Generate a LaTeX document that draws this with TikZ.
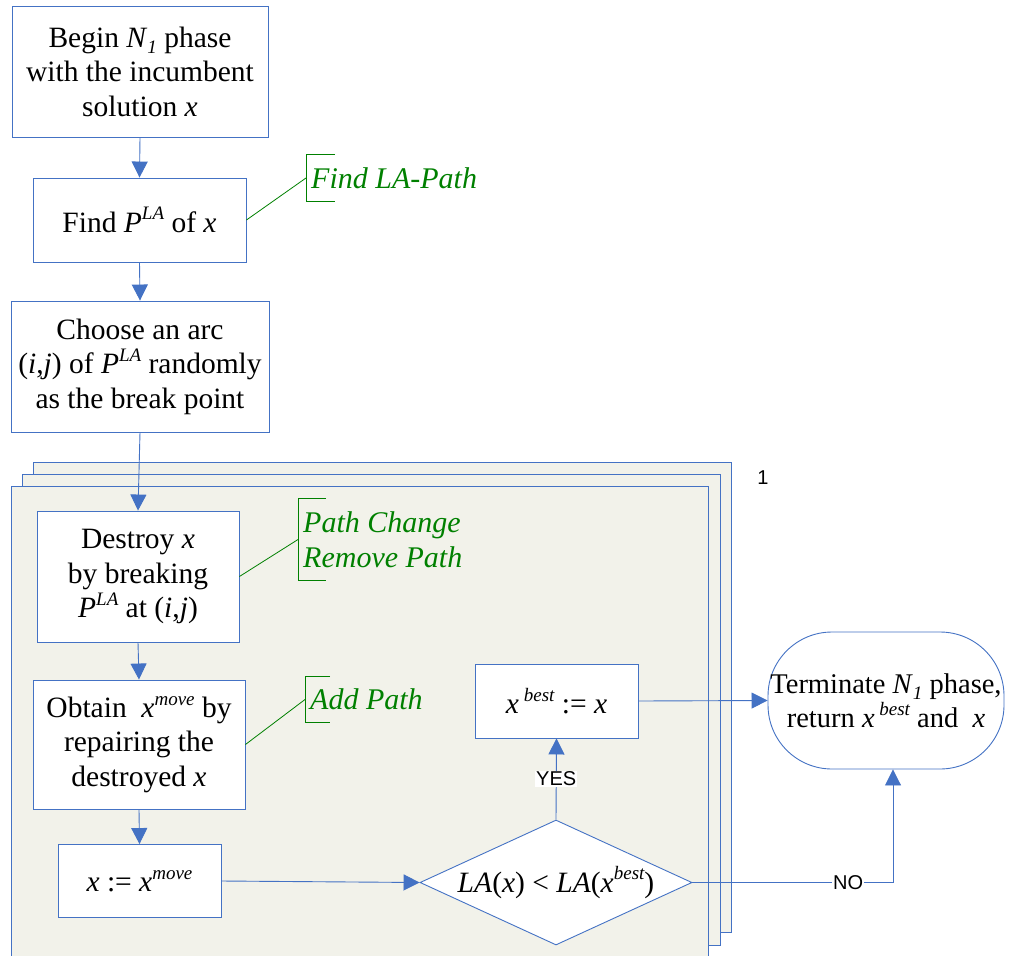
\documentclass[tikz,border=0pt]{standalone}
\usepackage{fontspec}
\setmainfont{Liberation Serif}
\newfontfamily\labelfont{Liberation Sans}
\usetikzlibrary{shapes.geometric,arrows.meta}
\definecolor{flowblue}{RGB}{68,114,196}
\definecolor{panelfill}{RGB}{242,242,234}
\definecolor{notegreen}{RGB}{0,128,0}
% raised / lowered italic indices at a fixed size
\newcommand\myup[1]{\raisebox{0.42em}{\fontsize{19}{19}\selectfont\itshape #1}}
\newcommand\mydown[1]{\raisebox{-0.22em}{\fontsize{19}{19}\selectfont\itshape #1}}
\newcommand\vx{\textit{x}}

\begin{document}
\begin{tikzpicture}[x=1pt,y=-1pt,
  box/.style={draw=flowblue, line width=0.9pt, fill=white, align=center,
    inner sep=0pt, font=\fontsize{29.5}{34.5}\selectfont},
  flow/.style={draw=flowblue, line width=0.9pt, -{Triangle[length=16pt,width=16pt]}},
  panel/.style={draw=flowblue, line width=0.9pt, fill=panelfill},
  note/.style={text=notegreen, font=\fontsize{30}{35}\selectfont\itshape,
    align=left, anchor=west, inner xsep=5pt, inner ysep=0pt},
  notelink/.style={draw=notegreen, line width=0.8pt},
  tag/.style={font=\labelfont\fontsize{20}{20}\selectfont, fill=white, inner sep=1pt}
]
\useasboundingbox (0,0) rectangle (1019,955);

% stacked loop panels
\begin{scope}
  \clip (0,0) rectangle (1019,955);
  \draw[panel] (33,462) rectangle (731,932);
  \draw[panel] (22,474) rectangle (720,945);
  \draw[panel] (11,486) rectangle (708,975);
\end{scope}
\node[font=\labelfont\fontsize{20}{20}\selectfont] (pagenum) at (763,478) {1};

% process steps
\node[box, minimum width=256, minimum height=131] (begin) at (140,71.5)
  {Begin \textit{N}\mydown{1} phase\\with the incumbent\\solution \vx};
\node[box, minimum width=213, minimum height=84] (findp) at (139.5,220)
  {Find \textit{P}\myup{LA} of \vx};
\node[box, minimum width=258, minimum height=131] (choose) at (140,366.5)
  {Choose an arc\\(\textit{i},\textit{j}) of \textit{P}\myup{LA} randomly\\as the break point};
\node[box, minimum width=202, minimum height=131] (destroy) at (138,576.5)
  {Destroy \vx\\by breaking\\\textit{P}\myup{LA} at (\textit{i},\textit{j})};
\node[box, minimum width=212, minimum height=129] (obtain) at (139,744.5)
  {Obtain \ \vx\myup{move} by\\repairing the\\destroyed \vx};
\node[box, minimum width=163, minimum height=73] (assign) at (139.5,881)
  {\vx\ := \vx\myup{move}};
\node[box, shape=diamond, aspect=2.18, minimum width=272, minimum height=125] (test) at (556,882.5)
  {\textit{LA}(\vx) < \textit{LA}(\vx\myup{best})};
\node[box, minimum width=163, minimum height=74] (best) at (556.5,701)
  {\vx\,\myup{best} := \vx};
\node[box, rounded corners=64pt, minimum width=236, minimum height=137,
  font=\fontsize{28.5}{34.5}\selectfont] (term) at (886,700.5)
  {Terminate \textit{N}\mydown{1} phase,\\return \vx\,\myup{best} and \ \vx};

% annotations
\node[note, minimum height=46] (n1) at (306,178) {Find LA-Path};
\draw[notelink] ([xshift=29pt]n1.north west) -- (n1.north west) -- (n1.south west) -- ([xshift=29pt]n1.south west);
\draw[notelink] (findp.east) -- (n1.west);

\node[note, minimum height=81] (n2) at (298,539.5) {Path Change\\Remove Path};
\draw[notelink] ([xshift=28pt]n2.north west) -- (n2.north west) -- (n2.south west) -- ([xshift=28pt]n2.south west);
\draw[notelink] (destroy.east) -- (n2.west);

\node[note, minimum height=45] (n3) at (305,699.5) {Add Path};
\draw[notelink] ([xshift=25pt]n3.north west) -- (n3.north west) -- (n3.south west) -- ([xshift=25pt]n3.south west);
\draw[notelink] (obtain.east) -- (n3.west);

% connectors
\draw[flow] (begin.south) -- (findp.north);
\draw[flow] (findp.south) -- (choose.north);
\draw[flow] (choose.south) -- (destroy.north);
\draw[flow] (destroy.south) -- (obtain.north);
\draw[flow] (obtain.south) -- (assign.north);
\draw[flow] (assign.east) -- (test.west);
\draw[flow] (test.north) -- node[tag] {YES} (best.south);
\draw[flow] (best.east) -- (term.west);
\draw[flow] (test.east) -| node[tag, pos=0.388] {NO} ([xshift=7pt]term.south);
\end{tikzpicture}
\end{document}
